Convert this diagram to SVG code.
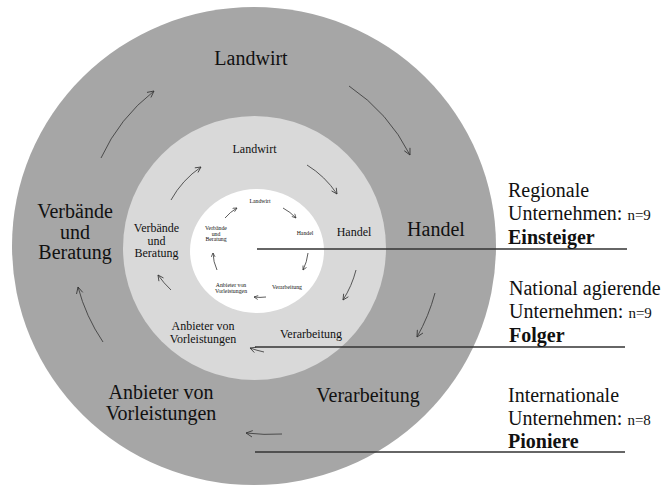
<svg xmlns="http://www.w3.org/2000/svg" width="662" height="488" viewBox="0 0 662 488">
<style>
text{font-family:"Liberation Serif","Times New Roman",serif;fill:#111}
.o{font-size:20px;text-anchor:middle}
.m{font-size:12px;text-anchor:middle}
.i{font-size:5.8px;text-anchor:middle}
.r{font-size:20px}
.b{font-weight:bold}
.n{font-size:15px}
.a{fill:none;stroke:#333;stroke-width:0.8}
.ln{stroke:#333;stroke-width:1.6}
</style>
<defs>
<marker id="ho" viewBox="0 0 10 10" refX="9" refY="5" markerWidth="8" markerHeight="8" markerUnits="userSpaceOnUse" orient="auto"><path d="M1,1 L9,5 L1,9" fill="none" stroke="#333" stroke-width="1"/></marker>
<marker id="hm" viewBox="0 0 10 10" refX="9" refY="5" markerWidth="7" markerHeight="7" markerUnits="userSpaceOnUse" orient="auto"><path d="M1,1 L9,5 L1,9" fill="none" stroke="#333" stroke-width="1.1"/></marker>
<marker id="hi" viewBox="0 0 10 10" refX="9" refY="5" markerWidth="5" markerHeight="5" markerUnits="userSpaceOnUse" orient="auto"><path d="M1,1 L9,5 L1,9" fill="none" stroke="#333" stroke-width="1.4"/></marker>
</defs>
<rect width="662" height="488" fill="#fff"/>
<g id="rings">
<ellipse cx="254" cy="246" rx="242" ry="239" fill="#a6a6a6"/>
<ellipse cx="254.5" cy="248" rx="131.5" ry="132" fill="#d9d9d9"/>
<ellipse cx="257" cy="251" rx="67" ry="62" fill="#fff"/>
</g>
<g id="connectors">
<path class="a" marker-end="url(#ho)" d="M101,158 A180,180 0 0 1 154,91"/>
<path class="a" marker-end="url(#ho)" d="M349,86 A182,182 0 0 1 410,155"/>
<path class="a" marker-end="url(#ho)" d="M435,293 A187,187 0 0 1 417,337"/>
<path class="a" marker-end="url(#ho)" d="M282,434 A190,190 0 0 1 246,433"/>
<path class="a" marker-end="url(#ho)" d="M103,342 A180,180 0 0 1 78,287"/>
<path class="a" marker-end="url(#hm)" d="M171,200 A97,97 0 0 1 201,167"/>
<path class="a" marker-end="url(#hm)" d="M307,165 A98,98 0 0 1 337,194"/>
<path class="a" marker-end="url(#hm)" d="M356,270 A103,103 0 0 1 343,300"/>
<path class="a" marker-end="url(#hm)" d="M264,352 A104,104 0 0 1 250,348"/>
<path class="a" marker-end="url(#hm)" d="M171,290 A97,97 0 0 1 158,275"/>
<path class="a" marker-end="url(#hi)" d="M225,218 A46,46 0 0 1 237,208"/>
<path class="a" marker-end="url(#hi)" d="M283,208 A50,50 0 0 1 296,218"/>
<path class="a" marker-end="url(#hi)" d="M308,253 A50,50 0 0 1 303,270"/>
<path class="a" marker-end="url(#hi)" d="M266,297 A46,46 0 0 1 254,297"/>
<path class="a" marker-end="url(#hi)" d="M217,270 A44,44 0 0 1 213,253"/>
<line class="ln" x1="257" y1="249" x2="627" y2="249"/>
<line class="ln" x1="255" y1="347" x2="625" y2="347"/>
<line class="ln" x1="255" y1="452" x2="625" y2="452"/>
</g>
<g id="outer-landwirt"><text class="o" x="251" y="65">Landwirt</text></g>
<g id="outer-handel"><text class="o" x="436" y="236">Handel</text></g>
<g id="outer-verarbeitung"><text class="o" x="368" y="402">Verarbeitung</text></g>
<g id="outer-anbieter"><text class="o" x="161" y="399">Anbieter von</text><text class="o" x="161" y="420">Vorleistungen</text></g>
<g id="outer-verbaende"><text class="o" x="75" y="218">Verbände</text><text class="o" x="75" y="239">und</text><text class="o" x="75" y="259">Beratung</text></g>
<g id="mid-landwirt"><text class="m" x="254.5" y="153">Landwirt</text></g>
<g id="mid-handel"><text class="m" x="354" y="236">Handel</text></g>
<g id="mid-verarbeitung"><text class="m" x="311" y="338">Verarbeitung</text></g>
<g id="mid-anbieter"><text class="m" x="203" y="330">Anbieter von</text><text class="m" x="203" y="343">Vorleistungen</text></g>
<g id="mid-verbaende"><text class="m" x="156.5" y="232">Verbände</text><text class="m" x="156.5" y="244.5">und</text><text class="m" x="156.5" y="257">Beratung</text></g>
<g id="in-landwirt"><text class="i" x="260" y="203">Landwirt</text></g>
<g id="in-handel"><text class="i" x="305" y="235">Handel</text></g>
<g id="in-verarbeitung"><text class="i" x="287" y="289">Verarbeitung</text></g>
<g id="in-anbieter"><text class="i" x="231" y="287">Anbieter von</text><text class="i" x="231" y="292.5">Vorleistungen</text></g>
<g id="in-verbaende"><text class="i" x="216" y="230">Verbände</text><text class="i" x="216" y="235.5">und</text><text class="i" x="216" y="241">Beratung</text></g>
<g id="label-regional"><text class="r" x="508" y="197">Regionale</text><text class="r" x="508" y="220">Unternehmen: <tspan class="n">n=9</tspan></text><text class="r b" x="508" y="244">Einsteiger</text></g>
<g id="label-national"><text class="r" x="509" y="295">National agierende</text><text class="r" x="509" y="318">Unternehmen: <tspan class="n">n=9</tspan></text><text class="r b" x="509" y="342">Folger</text></g>
<g id="label-international"><text class="r" x="508" y="402">Internationale</text><text class="r" x="508" y="425">Unternehmen: <tspan class="n">n=8</tspan></text><text class="r b" x="508" y="448">Pioniere</text></g>
</svg>
